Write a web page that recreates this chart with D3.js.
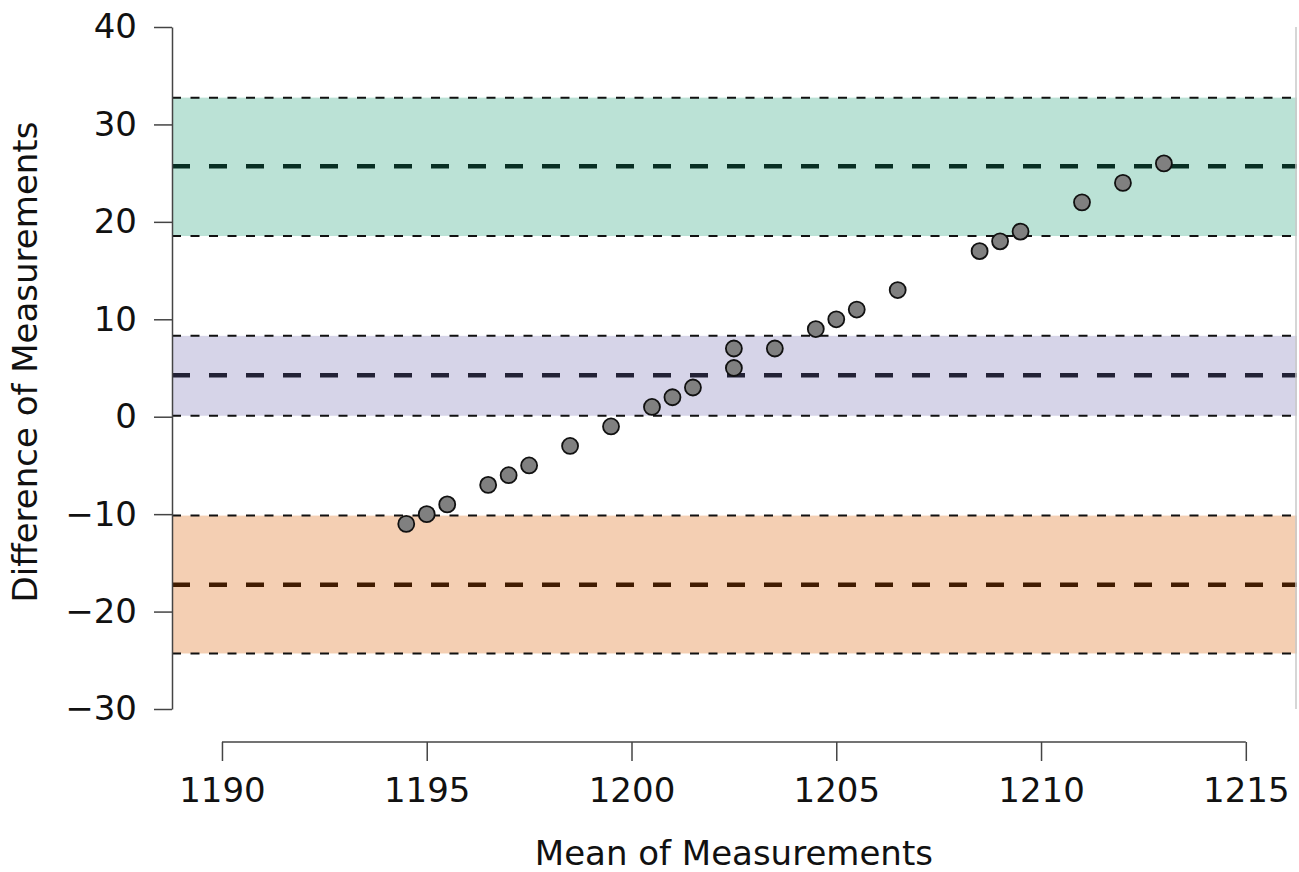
<!DOCTYPE html>
<html>
<head>
<meta charset="utf-8">
<script src="https://cdn.jsdelivr.net/npm/d3@7"></script>
<style>
  body { margin: 0; background: #fff; }
  text { font-family: "DejaVu Sans", sans-serif; fill: #111; }
</style>
</head>
<body>
<div class="container"></div>
<script>
// data
const meanVals = [1194.5, 1195, 1195.5, 1196.5, 1197, 1197.5, 1198.5, 1199.5, 1200.5, 1201, 1201.5,
                  1202.5, 1202.5, 1203.5, 1204.5, 1205, 1205.5, 1206.5, 1208.5, 1209, 1209.5, 1211, 1212, 1213];
const diffVals = [-11, -10, -9, -7, -6, -5, -3, -1, 1, 2, 3,
                  5, 7, 7, 9, 10, 11, 13, 17, 18, 19, 22, 24, 26];

// bands: upper LoA, bias, lower LoA (with confidence intervals)
const bandNames = ["upper", "mean", "lower"];
const bandCenter = [25.7, 4.25, -17.25];
const bandLow = [18.55, 0.1, -24.3];
const bandHigh = [32.75, 8.3, -10.15];
const bandFill = ["#bbe2d6", "#d6d4e8", "#f4cfb3"];
const bandLine = ["#082f24", "#232236", "#411c01"];

const xTicks = [1190, 1195, 1200, 1205, 1210, 1215];
const yTicks = [-30, -20, -10, 0, 10, 20, 30, 40];

const width = 1299, height = 872;

const svg = d3.select(".container").append("svg")
    .attr("width", width)
    .attr("height", height);

//scales
const x = d3.scaleLinear()
    .domain([1188.78, 1216.25])
    .range([172, 1297]);
const y = d3.scaleLinear()
    .domain([-30, 40])
    .range([709, 27]);

const plotLeft = x.range()[0], plotRight = x.range()[1];

//bands
const bands = svg.append("g");
bandNames.forEach((name, i) => {
  bands.append("rect")
    .attr("x", plotLeft)
    .attr("y", y(bandHigh[i]))
    .attr("width", plotRight - plotLeft)
    .attr("height", y(bandLow[i]) - y(bandHigh[i]))
    .style("fill", bandFill[i]);

  [bandLow[i], bandHigh[i]].forEach(v => {
    bands.append("line")
      .attr("x1", plotLeft).attr("x2", plotRight)
      .attr("y1", y(v)).attr("y2", y(v))
      .style("stroke", "#111")
      .style("stroke-width", 2)
      .style("stroke-dasharray", "9 9.5");
  });

  bands.append("line")
    .attr("x1", plotLeft).attr("x2", plotRight)
    .attr("y1", y(bandCenter[i])).attr("y2", y(bandCenter[i]))
    .style("stroke", bandLine[i])
    .style("stroke-width", 4.5)
    .style("stroke-dasharray", "18 19");
});

//right edge line
svg.append("line")
  .attr("x1", plotRight - 1).attr("x2", plotRight - 1)
  .attr("y1", y(40)).attr("y2", y(-30))
  .style("stroke", "#c8c8c8")
  .style("stroke-width", 1.5);

//points
svg.append("g").selectAll("circle")
  .data(meanVals)
  .enter()
  .append("circle")
  .attr("cx", d => x(d))
  .attr("cy", (d, i) => y(diffVals[i]))
  .attr("r", 8)
  .style("fill", "#808080")
  .style("stroke", "#111")
  .style("stroke-width", 1.8);

//axes
const yAxis = d3.axisLeft(y)
  .tickValues(yTicks)
  .tickSizeInner(18)
  .tickSizeOuter(0)
  .tickPadding(17)
  .tickFormat(d => d < 0 ? "\u2212" + Math.abs(d) : String(d));
const yAxisGroup = svg.append("g")
  .attr("transform", `translate(${plotLeft}, 0)`)
  .call(yAxis);

const xAxis = d3.axisBottom(x)
  .tickValues(xTicks)
  .tickSizeInner(19)
  .tickSizeOuter(0)
  .tickPadding(17)
  .tickFormat(d => String(d));
const xAxisGroup = svg.append("g")
  .attr("transform", "translate(0, 742)")
  .call(xAxis);
xAxisGroup.select(".domain").remove();
xAxisGroup.append("line")
  .attr("x1", x(xTicks[0])).attr("x2", x(xTicks[xTicks.length - 1]))
  .attr("y1", 0).attr("y2", 0);

[xAxisGroup, yAxisGroup].forEach(g => {
  g.selectAll("line, path").style("stroke", "#444").style("stroke-width", 1.5);
  g.selectAll("text").style("font-size", "34px").style("fill", "#111")
    .style("font-family", "'DejaVu Sans', sans-serif");
});

//axis labels
svg.append("text")
  .attr("x", (x(1190) + x(1215)) / 2)
  .attr("y", 865)
  .attr("text-anchor", "middle")
  .style("font-size", "34px")
  .text("Mean of Measurements");

svg.append("text")
  .attr("transform", "translate(37, 362) rotate(-90)")
  .attr("text-anchor", "middle")
  .style("font-size", "34px")
  .text("Difference of Measurements");
</script>
</body>
</html>
